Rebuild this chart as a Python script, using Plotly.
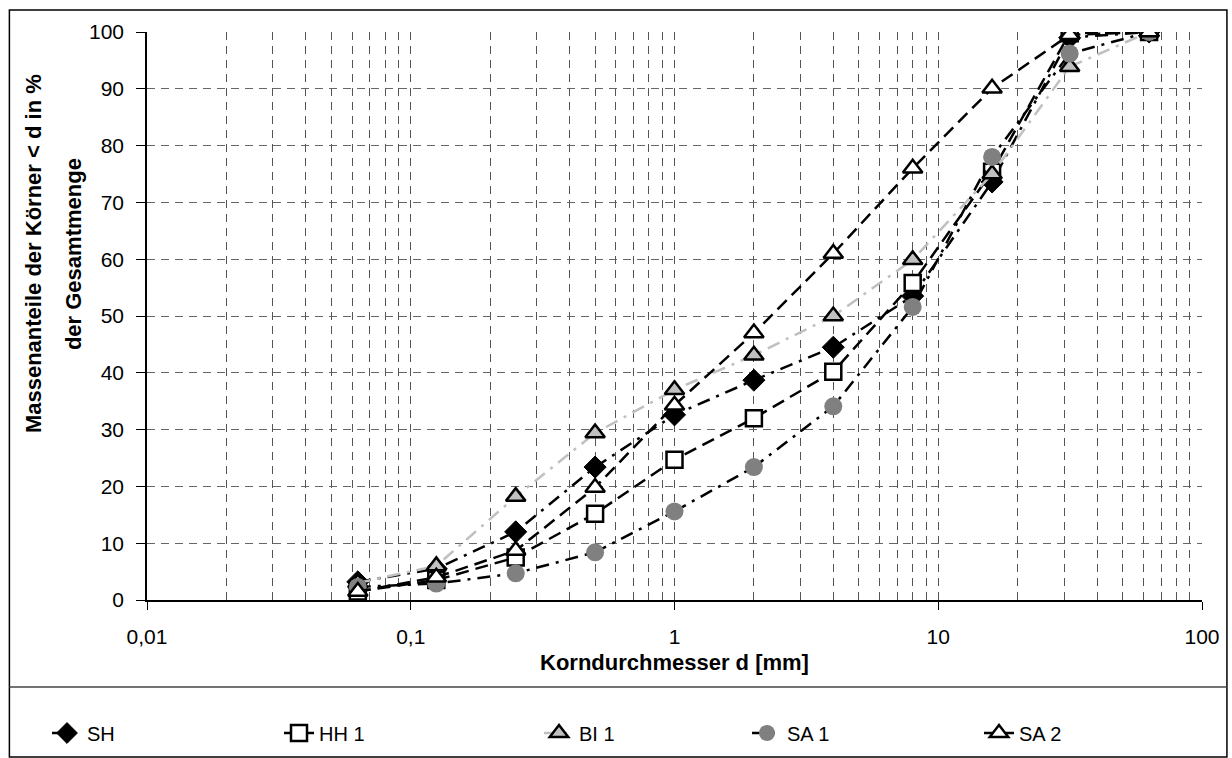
import plotly.graph_objects as go

sieve_mm = [0.063, 0.125, 0.25, 0.5, 1, 2, 4, 8, 16, 31.5, 63]
sh = [3.2, 5.5, 12.0, 23.4, 32.6, 38.7, 44.5, 53.5, 73.6, 99.0, 100]
hh1 = [1.5, 3.5, 7.5, 15.2, 24.7, 32.0, 40.2, 55.8, 75.4, 99.8, 100]
bi1 = [3.0, 6.0, 18.2, 29.4, 37.0, 43.1, 50.0, 59.9, 75.0, 93.9, 100]
sa1 = [2.3, 2.9, 4.7, 8.4, 15.6, 23.4, 34.1, 51.6, 78.0, 96.2, 100]
sa2 = [1.5, 4.0, 8.7, 19.8, 34.3, 47.0, 61.0, 76.0, 90.1, 99.5, 100]

x_tickvals = [0.01, 0.1, 1, 10, 100]
x_ticktext = ["0,01", "0,1", "1", "10", "100"]
x_minor = [k * 10 ** e for e in range(-2, 2) for k in range(2, 10)]

FONT = "Liberation Sans, Arial, sans-serif"
DASH = "13px,7px"
DASHDOT = "13px,7px,3px,7px"

fig = go.Figure()

series = [
    ("SH", sh, dict(color="black", width=2.5, dash=DASHDOT),
     dict(symbol="diamond", size=17, color="black", line=dict(color="black", width=1))),
    ("HH 1", hh1, dict(color="black", width=2.5, dash=DASH),
     dict(symbol="square", size=16, color="white", line=dict(color="black", width=2.5))),
    ("BI 1", bi1, dict(color="#c0c0c0", width=2.5, dash=DASHDOT),
     dict(symbol="triangle-up", size=17, color="#c0c0c0", line=dict(color="black", width=2.5))),
    ("SA 1", sa1, dict(color="black", width=2.5, dash=DASHDOT),
     dict(symbol="circle", size=18, color="#808080", line=dict(color="#808080", width=0))),
    ("SA 2", sa2, dict(color="black", width=2.5, dash=DASH),
     dict(symbol="triangle-up", size=17, color="white", line=dict(color="black", width=2.5))),
]

legend_ids = ["legend", "legend2", "legend3", "legend4", "legend5"]
legend_marker_px = [65, 297, 557, 765, 997]

for (name, vals, line, marker), lid in zip(series, legend_ids):
    fig.add_trace(go.Scatter(x=sieve_mm, y=vals, name=name, mode="lines+markers",
                             line=line, marker=marker, legend=lid))

legend_common = dict(orientation="h", xref="container", yref="container",
                     y=1 - 733 / 758, xanchor="left", yanchor="middle",
                     font=dict(family=FONT, size=20, color="black"),
                     bgcolor="rgba(0,0,0,0)")
legend_layout = {lid: dict(legend_common, x=(px - 18) / 1232)
                 for lid, px in zip(legend_ids, legend_marker_px)}

fig.update_layout(
    width=1232, height=758,
    margin=dict(l=147, r=27, t=32, b=158),
    paper_bgcolor="white", plot_bgcolor="white",
    font=dict(family=FONT, size=21, color="black"),
    showlegend=True,
    **legend_layout,
)

fig.update_xaxes(
    type="log", range=[-2, 2],
    tickvals=x_tickvals, ticktext=x_ticktext,
    ticks="outside", ticklen=8, tickcolor="black", tickwidth=1,
    ticklabelstandoff=9,
    showline=True, linecolor="black", linewidth=1.5,
    showgrid=True, gridcolor="#555555", gridwidth=1, griddash="8px,6px",
    minor=dict(tickvals=x_minor, showgrid=True, gridcolor="#555555", gridwidth=1,
               griddash="8px,6px", ticks=""),
    zeroline=False,
)
fig.update_yaxes(
    range=[0, 100], dtick=10,
    ticks="outside", ticklen=9, tickcolor="black", tickwidth=1,
    ticklabelstandoff=8,
    showline=True, linecolor="black", linewidth=1.5,
    showgrid=True, gridcolor="#666666", gridwidth=1, griddash="8px,6px",
    zeroline=False,
)

fig.add_annotation(text="<b>Massenanteile der Körner &lt; d in %</b>", xref="paper", yref="paper",
                   x=0, y=0.609, xshift=-114, textangle=-90, showarrow=False,
                   xanchor="center", yanchor="middle", font=dict(family=FONT, size=22))
fig.add_annotation(text="<b>der Gesamtmenge</b>", xref="paper", yref="paper",
                   x=0, y=0.609, xshift=-74, textangle=-90, showarrow=False,
                   xanchor="center", yanchor="middle", font=dict(family=FONT, size=22))
fig.add_annotation(text="<b>Korndurchmesser d [mm]</b>", xref="paper", yref="paper",
                   x=0.5, y=0, yshift=-62, showarrow=False,
                   xanchor="center", yanchor="middle", font=dict(family=FONT, size=22))

# outer chart frame and legend separator
x0 = (9 - 147) / 1058
x1 = (1230 - 147) / 1058
fig.add_shape(type="rect", xref="paper", yref="paper", x0=x0, x1=x1,
              y0=(600 - 757) / 568, y1=(600 - 10) / 568,
              line=dict(color="black", width=1.5), layer="below")
fig.add_shape(type="line", xref="paper", yref="paper", x0=x0, x1=x1,
              y0=(600 - 687) / 568, y1=(600 - 687) / 568,
              line=dict(color="#444444", width=1.5))

fig.write_html("out.html")
